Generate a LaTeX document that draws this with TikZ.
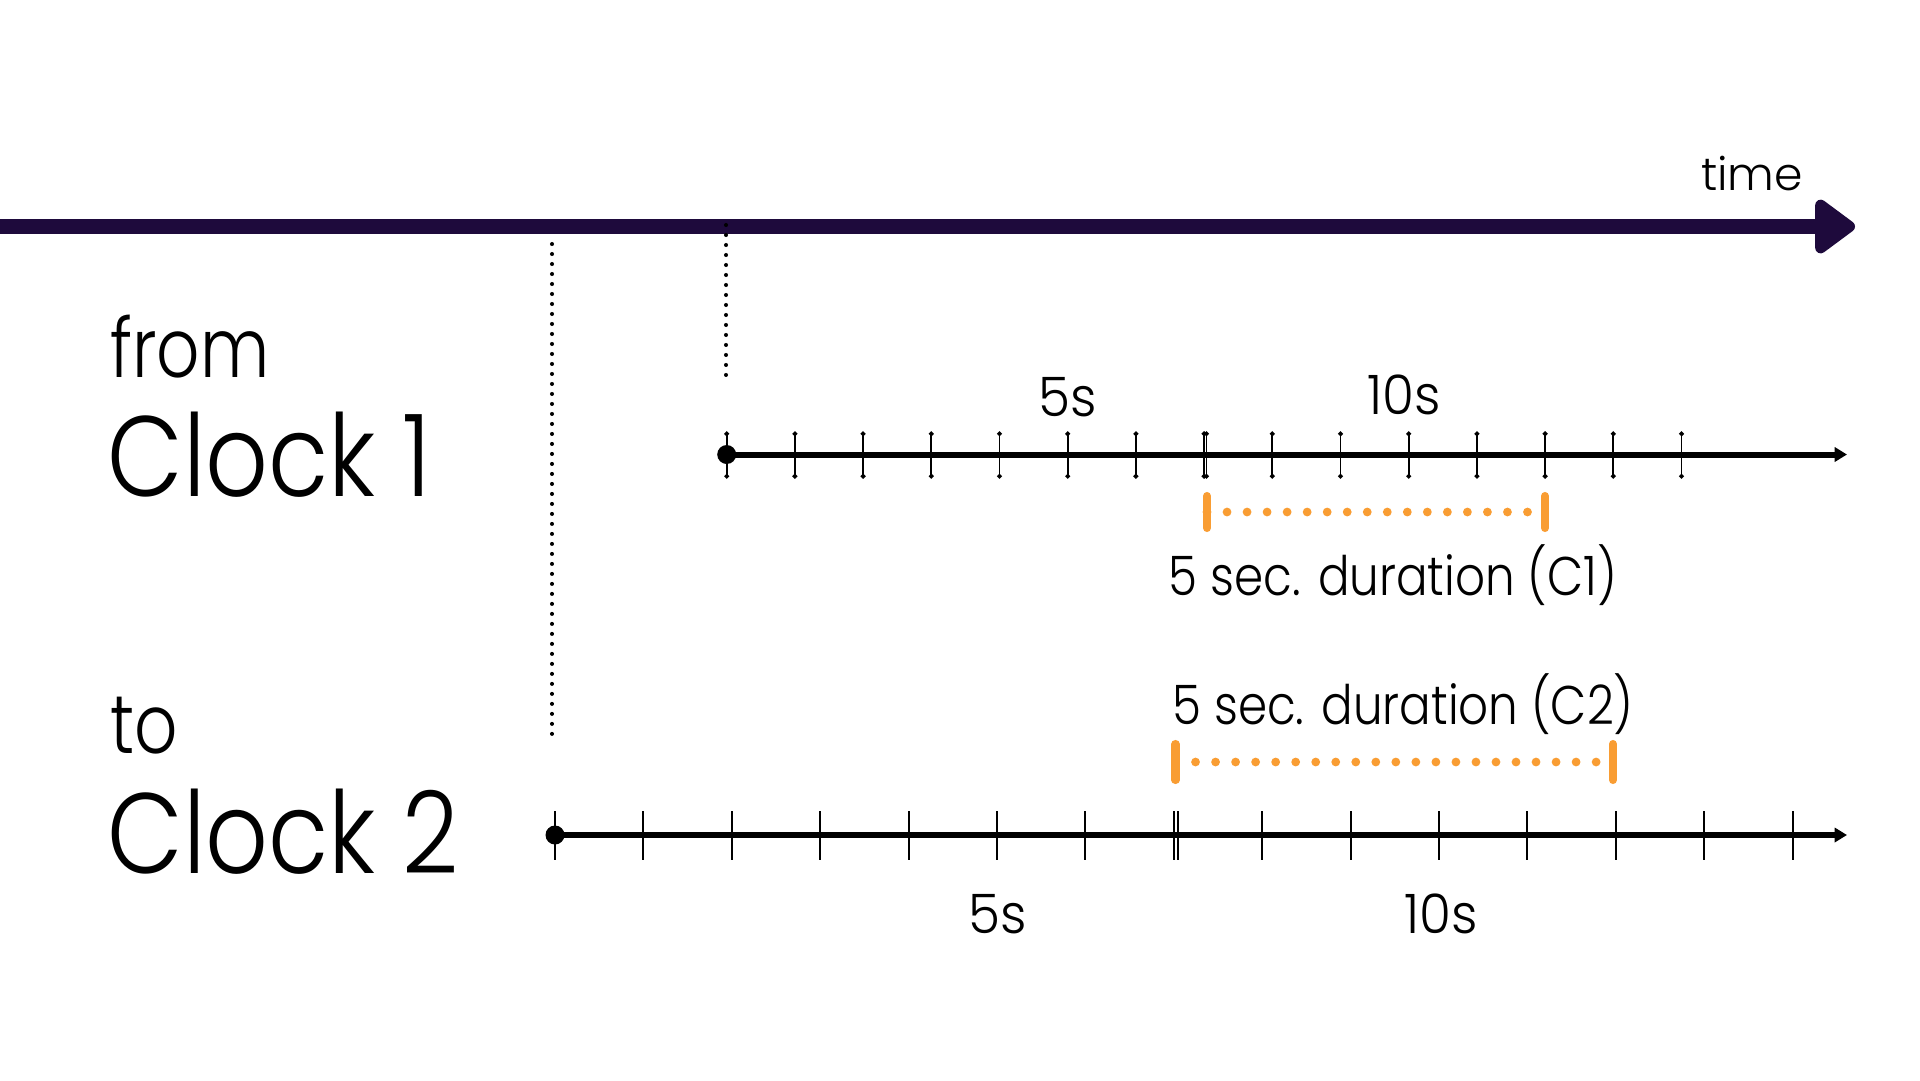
\documentclass[tikz,border=0pt]{standalone}
\usepackage{fontspec}
\setmainfont{Poppins}[UprightFont={* Light},FakeStretch=0.86]
\newfontfamily\narrowfont{Poppins}[UprightFont={* Light},FakeStretch=0.82]
\newfontfamily\numfont{Poppins}[UprightFont={* Light},FakeStretch=0.95]
\newfontfamily\plainfont{Poppins}[UprightFont={* Light}]
\usetikzlibrary{arrows.meta,calc}
\definecolor{deep}{HTML}{1E0A3C}
\definecolor{amber}{HTML}{F99D33}
\tikzset{
  timeline/.style={line width=8pt,deep,-{Triangle[round,length=25pt,width=35pt]}},
  clockline/.style={line width=3.4pt,black,-{Triangle[length=7pt,width=8pt]}},
  tickA/.style={line width=1.1pt,black,{Circle[length=2.6pt]}-{Circle[length=2.6pt]}},
  tickB/.style={line width=1.2pt,black},
  guide/.style={line width=2.3pt,black,line cap=round,dash pattern=on 0pt off 5.69pt},
  spanline/.style={line width=5pt,amber,line cap=round,dash pattern=on 0pt off 11.4pt},
  spanend/.style={line width=4.6pt,amber,line cap=round},
  startdot/.style={circle,fill=black,inner sep=0pt,minimum size=10.8pt},
  big/.style={font=\fontsize{65}{70}\selectfont,inner sep=0pt,anchor=base west},
  mid/.style={font=\narrowfont\fontsize{47}{52}\selectfont,inner sep=0pt,anchor=base west},
  lab/.style={font=\fontsize{31}{36}\selectfont,inner sep=0pt,anchor=base},
  numlab/.style={font=\numfont\fontsize{31}{36}\selectfont,inner sep=0pt,anchor=base},
}
\begin{document}
\begin{tikzpicture}[x=0.02cm,y=-0.02cm]
\useasboundingbox[fill=white] (0,0) rectangle (1920,1080);
% time axis
\coordinate (t0) at (0,226.5);
\coordinate (t1) at (1855,226.5);
\draw[timeline] (t0) -- (t1);
\node[font=\plainfont\fontsize{26}{30}\selectfont,inner sep=0pt,anchor=base] (timelab) at (1752,190) {time};
% guides
\coordinate (g1a) at (552,244);
\coordinate (g1b) at (552,737);
\draw[guide] (g1a) -- (g1b);
\coordinate (g2a) at (726,225);
\coordinate (g2b) at (726,376);
\draw[guide] (g2a) -- (g2b);
% left labels
\node[mid] (from) at (110,377) {from};
\node[big] (clk1) at (107,496) {Clock 1};
\node[mid] (to) at (110,753) {to};
\node[big] (clk2) at (107,873) {Clock 2};
% clock 1
\foreach \i in {0,...,14}{
  \pgfmathsetmacro{\xx}{726.7+\i*68.2}
  \draw[tickA] (\xx,431.5) -- (\xx,478.5);
}
\draw[tickA] (1206.5,431.5) -- (1206.5,478.5);
\node[startdot] (s1) at (726.7,454.5) {};
\coordinate (e1) at (1847,454.5);
\draw[clockline] (s1.center) -- (e1);
\node[numlab] (c1five) at (1068,416) {5s};
\node[numlab] (c1ten) at (1404,414) {10s};
% clock 2
\foreach \i in {0,...,14}{
  \pgfmathsetmacro{\xx}{555+\i*88.4}
  \draw[tickB] (\xx,811) -- (\xx,860);
}
\draw[tickB] (1177.8,811) -- (1177.8,860);
\node[startdot] (s2) at (555,835) {};
\coordinate (e2) at (1847,835);
\draw[clockline] (s2.center) -- (e2);
\node[numlab] (c2five) at (998,933) {5s};
\node[numlab] (c2ten) at (1441,933) {10s};
% durations
\coordinate (d1a) at (1207,512);
\coordinate (d1b) at (1545,512);
\draw[spanline] (d1a) -- (d1b);
\draw[spanend] ($(d1a)+(0,-16)$) -- ($(d1a)+(0,16)$);
\draw[spanend] ($(d1b)+(0,-16)$) -- ($(d1b)+(0,16)$);
\node[lab] (dur1) at (1393,595) {5 sec. duration (C1)};
\coordinate (d2a) at (1175.5,762);
\coordinate (d2b) at (1613,762);
\draw[spanline] (d2a) -- (d2b);
\draw[spanend] ($(d2a)+(0,-18)$) -- ($(d2a)+(0,18)$);
\draw[spanend] ($(d2b)+(0,-18)$) -- ($(d2b)+(0,18)$);
\node[lab] (dur2) at (1403,724) {5 sec. duration (C2)};
\end{tikzpicture}
\end{document}
